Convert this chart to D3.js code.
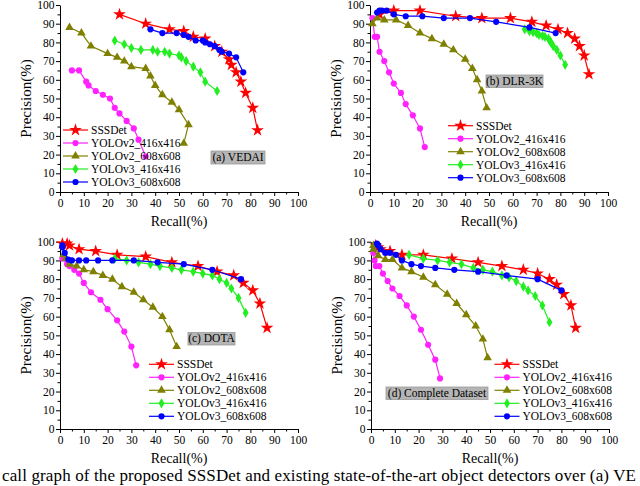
<!DOCTYPE html>
<html>
<head>
<meta charset="utf-8">
<script src="https://cdn.jsdelivr.net/npm/d3@7"></script>
<style>
  body { margin: 0; background: #fff; }
  svg { display: block; }
  svg text { font-family: "Liberation Serif", "Times New Roman", serif; }
</style>
</head>
<body>
<svg id="chart" width="640" height="486"></svg>
<script>
// tick values shared by every panel
const majorTicks = d3.range(0, 101, 10);
const minorTicks = d3.range(5, 100, 10);

const seriesNames = ["SSSDet", "YOLOv2_416x416", "YOLOv2_608x608", "YOLOv3_416x416", "YOLOv3_608x608"];

// (a) VEDAI  -- [recall, precision]
const vedaiSSSDet = [[25,95],[36,90],[46,87],[52,86],[56,83],[61,82],[65,78],[68,75],[71,71],[72,68],[74,64],[76,59],[78,53],[81,45],[83,33]];
const vedaiV2s = [[5,65],[8,65],[11,59],[12,57],[15,54],[18,52],[21,50],[23,45],[25,42],[28,38],[31,34],[33,28],[36,19]];
const vedaiV2l = [[4,88],[9,85],[13,78],[20,74],[24,72],[27,70],[30,67],[36,66],[38,62],[40,57],[43,52],[47,48],[50,44],[54,36],[52,26]];
const vedaiV3s = [[23,81],[27,79],[30,77],[34,76],[39,76],[41,75],[44,75],[46,74],[50,73],[51,72],[53,70],[56,67],[59,64],[61,59],[66,54]];
const vedaiV3l = [[38,87],[43,85],[49,85],[52,84],[54,83],[57,81],[60,81],[61,80],[63,79],[65,78],[67,76],[68,75],[71,74],[74,72],[77,64]];

// (b) DLR-3K
const dlrSSSDet = [[4,95],[10,97],[21,97],[36,94],[47,93],[59,93],[68,91],[74,89],[79,87],[83,85],[86,82],[88,78],[90,73],[92,63]];
const dlrV2s = [[1,93],[2,83],[3,83],[4,75],[6,70],[8,64],[10,58],[13,53],[15,47],[18,41],[21,34],[23,24]];
const dlrV2l = [[1,90],[3,93],[6,92],[11,92],[16,89],[21,85],[26,82],[31,79],[35,76],[40,71],[43,66],[45,60],[47,54],[49,45]];
const dlrV3s = [[65,87],[67,86],[68.5,85.5],[70,85],[71,84],[72.5,83.5],[73.5,83],[75,82],[75.5,81],[76,80],[77,78],[78.5,76],[80,73],[82,68]];
const dlrV3l = [[3,96],[4,97],[5,97],[7,97],[10,95],[15,94],[22,94],[31,93],[42,93],[53,91],[67,88],[78,85]];

// (c) DOTA
const dotaSSSDet = [[1,99],[3,99],[4,98],[8,96],[15,95],[24,93],[36,92],[47,89],[58,87],[66,84],[73,82],[77,78],[81,74],[84,67],[87,54]];
const dotaV2s = [[1,91],[3,88],[4,87],[6,85],[8,83],[10,78],[13,73],[17,69],[20,64],[24,58],[27,52],[30,44],[32,34]];
const dotaV2l = [[1.5,93],[2.5,91],[4,88],[7,87],[10,85],[14,84],[18,82],[22,80],[26,76],[31,73],[35,69],[39,65],[43,60],[46,53],[49,44]];
const dotaV3s = [[23,91],[28,90],[33,89],[38,88],[42,87],[47,86],[51,85],[56,84],[60,83],[64,82],[67,80],[70,78],[72,75],[75,70],[78,62]];
const dotaV3l = [[1,98],[1,97],[2,94],[3.5,90.5],[5,90],[8,90],[11,90],[16,90],[22,90],[31,90],[41,89],[52,88],[64,85],[76,80]];

// (d) Complete Dataset
const allSSSDet = [[2,98],[3,97],[4,96],[8,95],[13,93],[22,93],[34,91],[45,89],[55,87],[64,85],[70,83],[75,80],[78,77],[81,72],[84,66],[86,54]];
const allV2s = [[1,94],[1.5,90],[2,87],[3.5,87],[5,83],[7,79],[9,75],[12,71],[15,66],[18,60],[21,53],[24,45],[27,37],[29,27]];
const allV2l = [[1,98],[1,96],[3,92.5],[6,90.5],[9,90.5],[13,86],[17,84],[22,81],[27,77],[32,72],[36,67],[40,61],[44,55],[47,48],[49,38]];
const allV3s = [[16,93],[22,91],[28,90],[33,89],[38,88],[43,86],[47,85],[51,84],[55,82],[58,81],[61,79],[64,76],[66,74],[69,71],[72,66],[75,57]];
const allV3l = [[2.5,99],[3,98],[4,96],[6,94],[8,94],[10.5,93],[13,90],[17,88],[21,87],[27,86],[35,85],[45,84],[57,82],[70,80],[80,74]];

const styles = [
  { color: "#ff0000", symbol: d3.symbolStar, size: 50 },
  { color: "#ff22ff", symbol: d3.symbolCircle, size: 30 },
  { color: "#808000", symbol: d3.symbolTriangle, size: 32 },
  { color: "#22ee22", symbol: d3.symbolDiamond, size: 30 },
  { color: "#0000ff", symbol: d3.symbolCircle, size: 30 }
];

const panels = [
  { x0: 60, x1: 298, y0: 192, y1: 5, label: "(a) VEDAI", box: [211, 151, 54, 13], legend: [63, 130],
    series: [vedaiSSSDet, vedaiV2s, vedaiV2l, vedaiV3s, vedaiV3l] },
  { x0: 370, x1: 608, y0: 192, y1: 5, label: "(b) DLR-3K", box: [486, 75, 57, 12.5], legend: [448, 125.7],
    series: [dlrSSSDet, dlrV2s, dlrV2l, dlrV3s, dlrV3l] },
  { x0: 60, x1: 298, y0: 429, y1: 241.7, label: "(c) DOTA", box: [188, 332.5, 47, 12.5], legend: [149, 364.3],
    series: [dotaSSSDet, dotaV2s, dotaV2l, dotaV3s, dotaV3l] },
  { x0: 371, x1: 609, y0: 429, y1: 241.7, label: "(d) Complete Dataset", box: [386, 387, 102, 12.5], legend: [494.5, 364.3],
    series: [allSSSDet, allV2s, allV2l, allV3s, allV3l] }
];

const svg = d3.select("#chart");

function drawPanel(p) {
  const x = d3.scaleLinear().domain([0, 100]).range([p.x0, p.x1]);
  const y = d3.scaleLinear().domain([0, 100]).range([p.y0, p.y1]);
  const g = svg.append("g");

  // minor ticks first
  g.append("g").attr("transform", `translate(0,${p.y0})`)
    .call(d3.axisBottom(x).tickValues(minorTicks).tickSize(2.5).tickFormat(""))
    .call(s => s.select(".domain").remove());
  g.append("g").attr("transform", `translate(${p.x0},0)`)
    .call(d3.axisLeft(y).tickValues(minorTicks).tickSize(2.5).tickFormat(""))
    .call(s => s.select(".domain").remove());

  const xa = g.append("g").attr("transform", `translate(0,${p.y0})`)
    .call(d3.axisBottom(x).tickValues(majorTicks).tickSize(4).tickPadding(3).tickSizeOuter(0));
  const ya = g.append("g").attr("transform", `translate(${p.x0},0)`)
    .call(d3.axisLeft(y).tickValues(majorTicks).tickSize(4).tickPadding(1.5).tickSizeOuter(0));
  [xa, ya].forEach(a => {
    a.attr("font-family", "Liberation Serif");
    a.selectAll("text").attr("font-size", 11.5).attr("fill", "#000");
    a.selectAll("line, path").attr("stroke", "#000");
  });

  g.append("text")
    .attr("x", (p.x0 + p.x1) / 2).attr("y", p.y0 + 34)
    .attr("text-anchor", "middle").attr("font-size", 14)
    .text("Recall(%)");
  g.append("text")
    .attr("transform", `translate(${p.x0 - 29},${(p.y0 + p.y1) / 2}) rotate(-90)`)
    .attr("text-anchor", "middle").attr("font-size", 15)
    .text("Precision(%)");

  // dataset label box
  g.append("rect")
    .attr("x", p.box[0]).attr("y", p.box[1]).attr("width", p.box[2]).attr("height", p.box[3])
    .attr("fill", "#b5b5b5").attr("stroke", "#9a9a9a").attr("stroke-width", 0.8);
  g.append("text")
    .attr("x", p.box[0] + p.box[2] / 2).attr("y", p.box[1] + p.box[3] - 3)
    .attr("text-anchor", "middle").attr("font-size", 11.5)
    .text(p.label);

  const line = d3.line().x(d => x(d[0])).y(d => y(d[1]));

  p.series.forEach((data, i) => {
    const st = styles[i];
    const s = g.append("g");
    s.append("path").datum(data)
      .attr("fill", "none").attr("stroke", st.color).attr("stroke-width", 1.2)
      .attr("d", line);
    s.selectAll("path.m").data(data).join("path")
      .attr("class", "m")
      .attr("transform", d => `translate(${x(d[0])},${y(d[1])})`)
      .attr("d", d3.symbol().type(st.symbol).size(st.size))
      .attr("fill", st.color);
  });

  // legend
  const lg = g.append("g").attr("transform", `translate(${p.legend[0]},${p.legend[1]})`);
  seriesNames.forEach((name, i) => {
    const st = styles[i];
    const row = lg.append("g").attr("transform", `translate(0,${i * 13})`);
    row.append("line").attr("x1", 0).attr("x2", 25).attr("stroke", st.color).attr("stroke-width", 1.2);
    row.append("path").attr("transform", "translate(12.5,0)")
      .attr("d", d3.symbol().type(st.symbol).size(st.size)).attr("fill", st.color);
    row.append("text").attr("x", 28).attr("y", 4).attr("font-size", 11.5).text(name);
  });
}

panels.forEach(drawPanel);

// caption fragment visible at the bottom edge
svg.append("text")
  .attr("x", 2).attr("y", 481)
  .attr("font-size", 17)
  .attr("textLength", 634).attr("lengthAdjust", "spacing")
  .text("call graph of the proposed SSSDet and existing state-of-the-art object detectors over (a) VE");
</script>
</body>
</html>
